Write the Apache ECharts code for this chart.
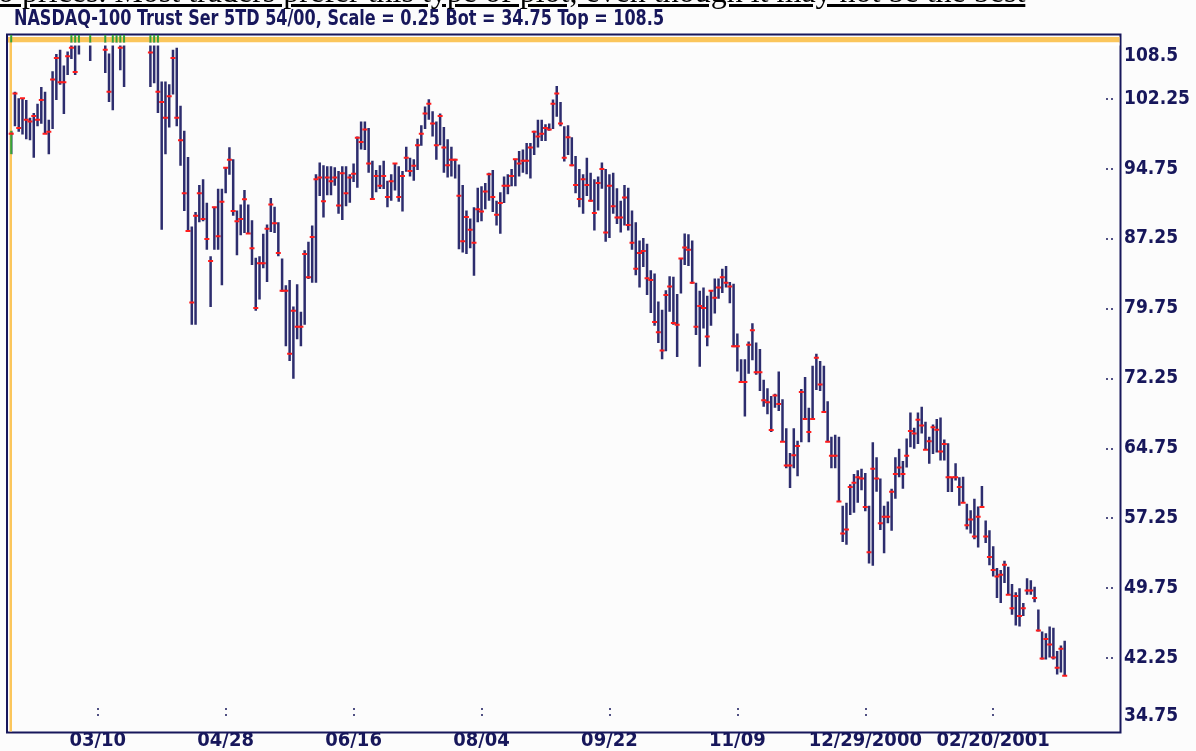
<!DOCTYPE html>
<html>
<head>
<meta charset="utf-8">
<script src="https://cdn.jsdelivr.net/npm/echarts@6/dist/echarts.min.js"></script>
<style>
  html, body { margin: 0; padding: 0; background: #fcfcfc; overflow: hidden; }
  #chart { width: 1196px; height: 751px; }
  #intro {
    position: absolute; left: -2px; top: -27px; z-index: 2;
    font: 32px "Liberation Serif", serif; color: #000;
    text-decoration: underline; white-space: nowrap;
  }
</style>
</head>
<body>
<div id="intro">o prices. Most traders prefer this type of plot, even though it may not be the best</div>
<div id="chart"></div>
<script>
// daily bars, one per trading day, index 0 = first bar on the left
const highs = [
  98.8, 103.0, 102.3, 102.3, 102.1, 100.2, 100.7, 101.7, 103.5, 103.0,
  100.0, 105.2, 107.05, 107.5, 105.8, 107.3, 109.5, 110.0, 111.5, 112.5,
  113.5, 113.0, 115.0, 118.5, 114.8, 111.8, 107.1, 109.6, 112.5, 112.0,
  111.0, 114.5, 116.5, 118.3, 119.8, 117.5, 115.0, 111.3, 110.8, 109.2,
  104.1, 104.1, 103.8, 107.5, 107.7, 101.5, 98.8, 96.0, 88.55, 90.1,
  93.0, 93.6, 91.1, 85.35, 90.65, 92.6, 92.6, 94.85, 97.05, 95.75,
  90.25, 90.9, 92.45, 90.9, 89.2, 85.2, 85.35, 87.75, 88.75, 91.6,
  90.65, 89.0, 85.1, 82.25, 82.8, 79.95, 82.35, 79.4, 86.0, 86.9,
  88.65, 94.15, 95.4, 95.1, 95.0, 95.0, 94.9, 94.5, 95.0, 95.0,
  94.15, 95.3, 98.2, 99.8, 99.8, 99.1, 95.6, 94.6, 95.1, 95.6,
  93.45, 94.15, 95.3, 95.0, 94.5, 97.1, 95.9, 95.75, 97.95, 99.4,
  101.4, 102.2, 100.9, 99.8, 100.65, 99.2, 97.9, 97.1, 95.8, 95.2,
  93.0, 90.25, 89.4, 90.6, 92.7, 92.85, 93.2, 94.3, 94.6, 91.3,
  92.2, 93.9, 94.15, 94.7, 95.8, 96.65, 96.8, 97.5, 97.5, 98.8,
  100.0, 100.0, 99.5, 99.6, 102.15, 103.6, 101.9, 99.3, 99.4, 98.1,
  96.1, 94.7, 94.15, 95.9, 94.3, 93.6, 93.9, 95.4, 94.7, 94.15,
  94.3, 92.65, 91.3, 93.0, 92.7, 90.25, 89.0, 87.05, 87.3, 86.7,
  83.85, 83.5, 80.5, 79.6, 81.7, 83.2, 83.15, 81.3, 85.1, 87.8,
  87.7, 87.05, 82.5, 81.65, 82.0, 81.1, 81.7, 82.95, 82.95, 84.0,
  84.3, 82.6, 82.4, 77.05, 74.3, 74.3, 76.2, 78.15, 76.1, 75.4,
  72.1, 71.2, 70.35, 70.6, 73.0, 70.0, 66.9, 64.25, 66.9, 65.55,
  71.1, 72.4, 69.1, 73.6, 74.9, 74.1, 73.6, 69.8, 66.0, 66.2,
  66.0, 58.6, 58.9, 60.9, 62.0, 62.4, 62.55, 62.1, 58.6, 65.4,
  63.8, 61.5, 58.6, 59.05, 60.4, 63.8, 64.7, 63.4, 65.8, 68.6,
  66.95, 68.6, 69.2, 67.6, 66.0, 67.3, 67.9, 68.05, 65.7, 65.3,
  61.65, 63.15, 61.65, 61.7, 58.8, 58.1, 59.35, 58.5, 60.7, 57.0,
  55.95, 54.25, 51.9, 51.7, 52.7, 52.05, 50.2, 49.3, 49.75, 48.15,
  50.8, 50.6, 49.9, 47.45, 45.1, 44.9, 45.65, 45.5, 43.0, 43.6,
  44.1
];
const lows = [
  96.3, 99.3, 98.7, 98.4, 97.9, 97.8, 95.9, 99.3, 99.55, 98.5,
  96.3, 99.0, 102.1, 103.75, 100.6, 104.8, 106.5, 104.8, 107.0, 108.9,
  110.5, 106.3, 110.8, 113.6, 109.2, 105.0, 101.9, 101.0, 108.2, 105.3,
  103.5, 109.7, 112.0, 114.0, 115.0, 112.6, 109.4, 103.5, 103.9, 100.7,
  88.2, 96.3, 99.15, 102.7, 99.3, 95.05, 90.2, 88.05, 78.0, 78.0,
  89.0, 89.1, 86.05, 79.9, 86.05, 86.05, 82.25, 92.1, 94.1, 89.7,
  85.45, 87.6, 87.85, 87.75, 84.4, 79.5, 80.7, 84.05, 82.6, 87.95,
  87.85, 85.35, 81.55, 75.7, 74.1, 72.2, 76.45, 75.7, 78.0, 82.9,
  82.5, 82.5, 91.8, 89.5, 91.9, 91.9, 92.9, 89.9, 89.25, 90.7,
  91.1, 93.3, 92.7, 96.8, 96.75, 94.3, 91.5, 92.2, 92.55, 92.55,
  90.6, 91.3, 92.4, 91.2, 90.15, 94.4, 93.9, 93.45, 94.6, 97.2,
  99.0, 100.0, 98.2, 95.7, 97.25, 94.3, 93.8, 93.9, 93.7, 86.1,
  85.75, 85.6, 86.2, 83.25, 89.0, 89.1, 90.4, 91.3, 90.1, 88.65,
  87.75, 91.05, 92.0, 92.85, 92.85, 93.9, 94.3, 94.15, 93.7, 96.2,
  97.0, 97.7, 97.7, 98.8, 99.0, 100.3, 99.3, 95.5, 96.2, 95.0,
  92.1, 90.6, 89.9, 91.8, 91.2, 88.1, 90.25, 92.6, 86.9, 87.3,
  89.9, 88.8, 87.9, 88.65, 88.1, 86.05, 83.3, 82.0, 84.2, 81.2,
  79.25, 77.9, 76.05, 74.3, 75.15, 79.4, 78.0, 74.55, 81.35, 84.4,
  84.3, 82.4, 76.9, 73.5, 77.6, 75.7, 77.9, 79.2, 80.8, 81.4,
  82.0, 80.3, 75.6, 73.0, 71.85, 68.15, 72.75, 74.2, 72.65, 70.9,
  69.2, 68.4, 66.5, 69.1, 68.76, 65.45, 62.6, 60.5, 62.6, 61.75,
  65.4, 67.8, 65.4, 67.9, 71.0, 70.9, 68.6, 65.4, 62.6, 62.6,
  59.05, 54.7, 54.4, 57.6, 57.85, 58.9, 60.25, 58.0, 52.4, 52.15,
  60.1, 56.0, 53.5, 56.7, 55.9, 59.35, 61.65, 60.4, 62.7, 64.85,
  64.7, 65.2, 66.35, 64.6, 63.1, 64.15, 64.3, 63.45, 63.45, 60.05,
  60.05, 61.3, 58.6, 58.9, 56.05, 55.6, 55.0, 54.1, 58.45, 54.6,
  52.2, 51.0, 48.7, 48.15, 50.3, 49.05, 46.9, 45.75, 45.65, 46.75,
  49.05, 49.05, 48.25, 45.1, 42.1, 42.1, 42.3, 42.1, 40.5, 40.7,
  40.35
];
const closes = [
  98.5, 102.8, 99.1, 102.3, 100.0, 99.8, 100.4, 100.0, 102.1, 98.5,
  98.7, 104.3, 106.6, 104.0, 104.0, 106.8, 107.7, 105.1, 110.4, 111.5,
  112.8, 110.2, 114.2, 114.0, 110.3, 107.5, 103.0, 109.1, 111.4, 107.7,
  108.9, 113.6, 115.7, 117.5, 116.2, 113.4, 110.6, 107.2, 109.5, 103.0,
  101.9, 100.2, 102.5, 106.6, 100.2, 97.8, 92.1, 88.05, 80.4, 89.7,
  92.1, 89.35, 87.2, 84.85, 90.6, 87.5, 91.2, 94.85, 95.7, 90.2,
  89.1, 89.35, 91.45, 87.8, 86.2, 79.8, 84.6, 84.6, 88.3, 90.9,
  88.9, 85.7, 81.65, 81.65, 74.9, 79.5, 77.8, 77.8, 85.6, 83.1,
  87.4, 93.6, 93.8, 91.25, 93.8, 93.4, 93.8, 90.8, 94.25, 92.1,
  93.8, 94.2, 98.05, 97.6, 98.95, 95.3, 91.5, 93.95, 92.9, 93.95,
  91.7, 93.4, 95.3, 91.7, 93.95, 95.9, 94.5, 95.05, 97.25, 98.5,
  100.65, 101.7, 99.6, 97.25, 100.4, 97.0, 95.1, 95.7, 95.7, 91.85,
  86.95, 89.55, 88.2, 86.8, 90.4, 90.15, 92.3, 94.15, 91.7, 89.8,
  91.05, 92.9, 92.9, 93.95, 95.75, 95.3, 95.6, 95.6, 97.0, 98.7,
  98.2, 98.5, 99.1, 98.95, 101.7, 102.8, 99.6, 95.9, 98.1, 95.1,
  93.0, 91.5, 93.6, 93.0, 91.3, 90.0, 93.2, 94.7, 87.9, 92.9,
  90.7, 89.5, 89.5, 91.65, 88.7, 86.8, 84.0, 85.7, 85.9, 83.0,
  82.8, 78.3, 77.2, 75.25, 81.2, 82.1, 78.2, 78.0, 85.1, 86.3,
  86.05, 82.5, 77.8, 80.0, 79.8, 76.75, 81.65, 80.9, 82.0, 83.1,
  82.5, 82.1, 75.7, 75.7, 71.85, 71.85, 75.85, 77.4, 72.9, 72.9,
  69.9, 69.7, 66.7, 70.4, 69.5, 65.45, 62.9, 62.9, 64.0, 65.0,
  70.8, 67.9, 66.5, 67.9, 74.45, 71.6, 68.65, 65.45, 63.95, 63.95,
  59.05, 55.6, 56.05, 60.6, 61.05, 61.65, 61.5, 58.45, 53.6, 62.55,
  61.5, 56.7, 57.4, 57.4, 60.1, 62.0, 62.7, 62.0, 63.95, 66.6,
  66.35, 67.8, 67.2, 64.6, 65.5, 67.0, 66.75, 64.4, 65.2, 61.65,
  61.65, 61.65, 60.6, 58.9, 56.5, 57.1, 55.3, 57.4, 58.45, 55.3,
  53.1, 51.7, 51.0, 51.2, 52.25, 49.05, 47.6, 48.9, 46.75, 47.6,
  49.5, 49.5, 48.7, 45.2, 42.2, 44.3, 43.7, 42.3, 41.2, 43.25,
  40.35
];

// date labels every 34 trading days (bar index -> label)
const tickIndex = [23, 57, 91, 125, 159, 193, 227, 261];
const tickLabels = ['03/10', '04/28', '06/16', '08/04', '09/22', '11/09', '12/29/2000', '02/20/2001'];

// price scale: Bot = 34.75, Top = 108.5, dotted ticks every 7.5
const yMin = 34.75;
const yMax = 108.5;
const yTicks = [42.25, 49.75, 57.25, 64.75, 72.25, 79.75, 87.25, 94.75, 102.25];
const yLabels = [34.75, 42.25, 49.75, 57.25, 64.75, 72.25, 79.75, 87.25, 94.75, 102.25, 108.5];

const titleText = 'NASDAQ-100 Trust Ser 5TD 54/00, Scale = 0.25 Bot = 34.75 Top = 108.5';

const navy = '#17175b';
const barColor = '#2d2d6e';
const closeColor = '#ff1c1c';
const orange = '#fbc65c';
const green = '#35a13b';
const narrow = '"Liberation Sans Narrow", "DejaVu Sans Condensed", "Arial Narrow", sans-serif';

const bars = highs.map((h, i) => [i, h, lows[i], closes[i]]);

function renderBar(params, api) {
  const i = api.value(0);
  const top = api.coord([i, api.value(1)]);
  const bot = api.coord([i, api.value(2)]);
  const cl = api.coord([i, api.value(3)]);
  return {
    type: 'group',
    children: [
      { type: 'rect', shape: { x: top[0] - 1.25, y: top[1], width: 2.5, height: bot[1] - top[1] },
        style: { fill: barColor } },
      { type: 'rect', shape: { x: cl[0] - 2.5, y: cl[1] - 1, width: 5, height: 2 },
        style: { fill: closeColor } }
    ]
  };
}

// green flags in the top band for bars running off the scale,
// and the first bar which sits on the left border
function renderEdge(params, api) {
  const i = api.value(0);
  const hi = api.value(1);
  const lo = api.value(2);
  const edge = api.coord([i, yMax]);
  const children = [];
  if ((hi > yMax && lo < yMax) || i === 0) {
    children.push({ type: 'rect', shape: { x: edge[0] - 1, y: edge[1] - 5.5, width: 2, height: 7.5 },
      style: { fill: green } });
  }
  if (i === 0) {
    const top = api.coord([i, hi]);
    const bot = api.coord([i, lo]);
    const cl = api.coord([i, api.value(3)]);
    children.push({ type: 'rect', shape: { x: top[0] - 1, y: top[1], width: 2, height: bot[1] - top[1] },
      style: { fill: green } });
    children.push({ type: 'rect', shape: { x: cl[0] - 2, y: cl[1] - 1, width: 4, height: 2 },
      style: { fill: closeColor } });
  }
  return { type: 'group', children: children };
}

const chart = echarts.init(document.getElementById('chart'), null, { renderer: 'canvas' });

const labelFont = { color: navy, fontFamily: narrow, fontWeight: 'bold', fontSize: 19 };

const option = {
  animation: false,
  backgroundColor: '#fcfcfc',
  grid: { left: 8, right: 76, top: 40.4, bottom: 18.6 },
  xAxis: {
    type: 'value',
    min: -0.85,
    max: 294.7,
    axisLine: { show: false, onZero: false },
    splitLine: { show: false },
    axisTick: {
      show: true,
      inside: true,
      length: 21,
      customValues: tickIndex,
      // two dots a little above the axis line
      lineStyle: { color: navy, width: 1.5, type: [0, 12, 2, 4, 2, 10] }
    },
    axisLabel: {
      customValues: tickIndex,
      formatter: (v) => tickLabels[tickIndex.indexOf(v)],
      margin: 3,
      color: navy,
      fontFamily: narrow,
      fontWeight: 'bold',
      fontSize: 20
    }
  },
  yAxis: {
    type: 'value',
    position: 'right',
    min: yMin,
    max: yMax,
    axisLine: { show: false, onZero: false },
    splitLine: { show: false },
    axisTick: {
      show: true,
      inside: true,
      length: 14,
      customValues: yTicks,
      // two dots just left of the axis line
      lineStyle: { color: navy, width: 1.5, type: [0, 7, 2, 3, 2, 10] }
    },
    axisLabel: Object.assign({
      customValues: yLabels,
      margin: 4,
      align: 'left',
      formatter: (v) => {
        if (v === yMax) return '{t|' + v + '}';
        if (v === yMin) return '{b|' + v + '}';
        return String(v);
      },
      rich: {
        t: Object.assign({ padding: [32, 0, 0, 0] }, labelFont),
        b: Object.assign({ padding: [0, 0, 24, 0] }, labelFont)
      }
    }, labelFont)
  },
  graphic: {
    elements: [
      { type: 'text', z: 10, silent: true, x: 14, y: 9, scaleX: 0.85,
        style: { text: titleText, font: 'bold 21px ' + narrow, fill: navy, verticalAlign: 'top' } },
      { type: 'rect', z: 10, silent: true,
        shape: { x: 7, y: 34.5, width: 1113.5, height: 698 },
        style: { fill: 'none', stroke: navy, lineWidth: 2 } },
      { type: 'rect', z: 10, silent: true,
        shape: { x: 8, y: 37, width: 1111.5, height: 5.5 },
        style: { fill: orange } },
      { type: 'rect', z: 10, silent: true,
        shape: { x: 9.5, y: 37, width: 2.5, height: 694.5 },
        style: { fill: orange } },
      { type: 'rect', z: 10, silent: true,
        shape: { x: 12, y: 42.5, width: 1107.5, height: 3 },
        style: { fill: '#ffffff' } }
    ]
  },
  series: [
    {
      type: 'custom',
      name: 'bars',
      clip: true,
      renderItem: renderBar,
      encode: { x: 0, y: [1, 2] },
      data: bars
    },
    {
      type: 'custom',
      name: 'edge',
      clip: false,
      z: 20,
      silent: true,
      renderItem: renderEdge,
      encode: { x: 0, y: [1, 2] },
      data: bars
    }
  ]
};

chart.setOption(option);
</script>
</body>
</html>
